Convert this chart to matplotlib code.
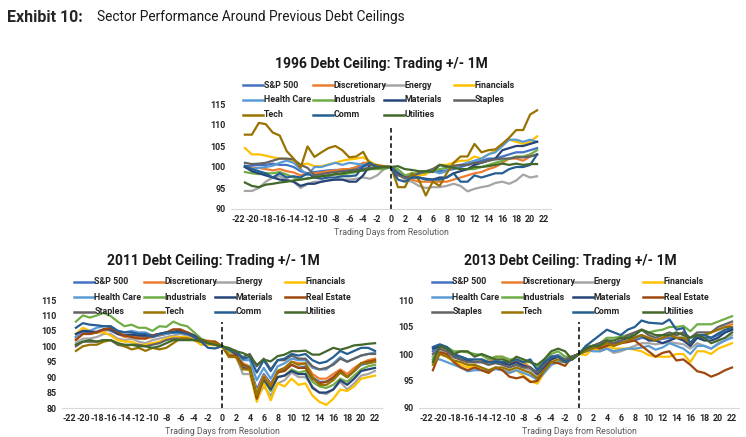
import matplotlib
matplotlib.use("Agg")
import matplotlib.pyplot as plt
from matplotlib.lines import Line2D

W, H = 746, 437

days_1996 = list(range(-21, 22))
days_2011 = list(range(-21, 23))
days_2013 = list(range(-21, 23))

colors = {
    "S&P 500": "#4472C4",
    "Discretionary": "#ED7D31",
    "Energy": "#A5A5A5",
    "Financials": "#FFC000",
    "Health Care": "#5B9BD5",
    "Industrials": "#70AD47",
    "Materials": "#264478",
    "Real Estate": "#9E480E",
    "Staples": "#636363",
    "Tech": "#997300",
    "Comm": "#255E91",
    "Utilities": "#43682B",
}

legend_1996 = ["S&P 500", "Discretionary", "Energy", "Financials",
               "Health Care", "Industrials", "Materials", "Staples",
               "Tech", "Comm", "Utilities"]
legend_full = ["S&P 500", "Discretionary", "Energy", "Financials",
               "Health Care", "Industrials", "Materials", "Real Estate",
               "Staples", "Tech", "Comm", "Utilities"]

data_1996 = {
    "S&P 500": [100.2, 100.3, 100.5, 100.5, 100.8, 100.5, 100.5, 100, 99, 98.5, 98.8, 99, 99.2, 99.3, 99.3, 99.5, 99.8, 100.2, 100.5, 100.3, 100,
                100,
                98.8, 98, 98, 98.3, 98.5, 99, 99, 99.2, 99.5, 100, 100.5, 101, 101.5, 102, 102, 102.5, 103, 103.5, 103.5, 104, 104.5],
    "Discretionary": [100, 99.7, 99.8, 99.5, 99.2, 99.5, 99, 98.7, 98, 98.5, 98.5, 98.7, 99, 99.2, 99.5, 99.5, 100, 101, 101, 100.5, 100.2,
                      100,
                      98.5, 97, 97, 96.5, 96.5, 96.5, 96.5, 96.5, 97, 97.5, 98, 98.5, 98.8, 99.5, 100, 101, 102, 102, 101.5, 102.5, 103],
    "Energy": [94.3, 94.3, 95, 96.5, 97.5, 97.8, 97, 96.5, 95, 96, 96.5, 96.5, 96.8, 97, 97, 97, 97.2, 97.5, 97.2, 98, 99.5,
               100,
               98.5, 97, 96.5, 95.5, 95, 95.2, 95.2, 95.5, 96, 95.5, 94.2, 94.8, 95.2, 95.5, 96.2, 96.5, 96, 96.8, 98.2, 97.5, 97.8],
    "Financials": [104.5, 103, 103, 102.7, 102.3, 102, 101.8, 101.5, 100.6, 100.8, 100.2, 100.2, 100.6, 101, 101.5, 101.8, 102, 102.3, 101.3, 100.3, 100,
                   100,
                   99, 97.5, 97.8, 98, 98.2, 99.5, 100.5, 100.5, 101, 101.5, 101.5, 102.5, 102, 103, 104, 105.5, 106.5, 106, 105.5, 106, 107.3],
    "Health Care": [100, 99.5, 99.8, 100, 100.3, 101, 101.5, 101, 99.5, 98, 100, 100, 100.5, 101, 100.5, 101, 100.8, 100.5, 100.7, 100.3, 100,
                    100,
                    99, 97.5, 98, 98.5, 98.8, 99, 98.5, 99, 100, 100.5, 101, 101.5, 102, 103, 103.5, 105, 106.5, 106.5, 106, 106.5, 106],
    "Industrials": [98.8, 98.5, 98.3, 98.5, 98.5, 98.8, 98.2, 97.5, 97, 97.2, 97.5, 97.8, 98, 98.2, 98.2, 98.5, 98.8, 99.2, 99.5, 99.5, 99.5,
                    100,
                    99.5, 98, 98.5, 98.5, 98.8, 99, 99.5, 99.8, 100, 99.5, 99.5, 99.5, 100, 100.5, 101, 101.5, 102, 102.5, 102.5, 103, 104],
    "Materials": [100, 99, 98.5, 98, 97.5, 97, 96.8, 96.5, 95.5, 96, 96, 96.5, 96.8, 97, 97, 96.5, 96.5, 98, 100.5, 100.3, 100,
                  100,
                  98.5, 97.5, 97.5, 97.5, 97.2, 97, 97.5, 97.5, 98.5, 99, 99.5, 100.5, 101, 101.5, 102, 104, 104.5, 105, 105, 105.5, 106],
    "Staples": [101, 100.7, 100.8, 101, 101.5, 102, 102, 101.8, 100.5, 99.8, 98, 98.3, 98.6, 98.8, 99, 99.2, 99.4, 99.6, 99.8, 100, 100,
                100,
                98, 97.5, 97.8, 98.5, 99, 99.5, 100.5, 100, 100.3, 100.5, 100.5, 101, 101, 101.5, 101.8, 102, 102, 102.3, 102.3, 102.5, 103],
    "Tech": [107.7, 107.7, 110.5, 110.2, 108.2, 107.5, 103.8, 102, 99.8, 104.9, 102.4, 103.5, 104.5, 105, 104, 102.3, 102.5, 103.6, 100.6, 100.3, 100.2,
             100,
             95.2, 95.2, 98.5, 97, 93.2, 96.5, 95.5, 98.5, 101, 102.5, 102.5, 105.5, 103.5, 104, 104.2, 105.5, 107, 108.8, 108.8, 112.5, 113.5],
    "Comm": [100.3, 99.5, 99, 98.5, 97.5, 98.5, 97.5, 97.8, 97.5, 98.5, 97.5, 97.2, 97.5, 97.5, 97.8, 97.8, 98, 100.2, 101, 100, 100,
             100,
             97, 96.5, 97.5, 97.5, 97, 97, 97, 97.5, 98.5, 96.5, 96.5, 98, 97.5, 98, 98.5, 98.5, 99.5, 100, 100, 100.5, 103],
    "Utilities": [96.3, 95.5, 95.2, 95.8, 96, 96.3, 96.5, 96.8, 97, 97.3, 97.5, 97.8, 98, 98.3, 98.5, 98.8, 99, 99.2, 99.5, 99.8, 100,
                  100,
                  100.2, 99.5, 99.3, 99, 99, 98.8, 100.5, 100.2, 99.8, 99.5, 99.5, 100, 100, 100.2, 100.5, 100.8, 100.5, 100.8, 100.5, 100.7, 100.7],
}

data_2011 = {
    "S&P 500": [103, 104.5, 104.5, 104.8, 105.5, 105, 104, 103.5, 103.5, 103, 103, 103, 103.5, 104, 104.5, 104.8, 104.3, 103.3, 102, 101.5, 101,
                100,
                98.5, 97.5, 94, 93.5, 86, 91, 88, 91.5, 92.5, 94, 93, 93.5, 90, 88.5, 88.5, 89.5, 91.5, 90, 92, 94, 94.5, 95],
    "Discretionary": [102.5, 104, 104, 104.5, 105, 105.5, 104, 103, 103.3, 103, 102.5, 103, 103.8, 104, 104.5, 105, 104.5, 103.5, 102, 101.8, 101.5,
                      100,
                      98, 97.5, 94.5, 93.5, 85, 90.5, 87.5, 92, 93, 95, 94.5, 94.5, 91, 89.5, 89.5, 91, 92.5, 91, 93, 94.5, 95.5, 96],
    "Energy": [101, 102.5, 102.5, 103, 104, 104, 102.5, 102, 102.5, 101.5, 101, 102, 102.5, 103, 103.5, 104, 103.5, 102.5, 101.5, 101, 100.5,
               100,
               98, 97, 91, 91, 83, 87, 84, 88, 89, 91.5, 90, 90, 87, 85, 84.5, 86, 88.5, 86, 88, 90.5, 91, 92],
    "Financials": [104, 106, 105, 104.5, 104.5, 103.5, 102, 101.5, 101.5, 100.5, 100.5, 101, 101.5, 102.5, 103, 103, 103, 102, 100.5, 100.5, 100.3,
                   100,
                   97.5, 96.5, 93, 92, 82, 88, 82.5, 88, 87, 89.5, 87.5, 88, 84, 82, 81, 83, 86, 85.5, 87, 89.5, 90, 90.5],
    "Health Care": [103, 105, 105, 106, 106.5, 106.5, 105, 104.5, 105, 104.5, 104.5, 103.5, 104, 104, 104.5, 104.5, 104, 103.5, 102, 101, 100.5,
                    100,
                    99, 98.5, 95.5, 95.5, 89, 93, 89.5, 93.5, 94.5, 96, 95.5, 95.5, 93, 92.5, 92.5, 94.5, 96.5, 95, 96, 97, 97.5, 98],
    "Industrials": [108, 110, 109.3, 110, 110.8, 109.8, 108, 106.5, 107, 106, 106, 105, 106.5, 106.3, 108, 107, 106.5, 104.5, 102.5, 101.5, 101,
                    100,
                    98.5, 97.5, 94, 93.5, 84.5, 89, 85.5, 90, 90.5, 92.5, 91.5, 92, 88.5, 87, 86.5, 87.5, 89.5, 88.5, 90.5, 92.5, 93.5, 94],
    "Materials": [104, 105, 104.8, 104.5, 105.5, 105.5, 104, 103.5, 103.8, 103.5, 103.5, 103.5, 104, 104.5, 104.8, 105, 104.5, 103.5, 102, 101.5, 101,
                  100,
                  99, 97.5, 93, 92.5, 83.5, 89.5, 86, 90, 90.5, 92, 91, 91, 86.5, 85, 85, 86, 89, 87.5, 89.5, 92, 92.5, 93],
    "Real Estate": [102, 104, 104, 104.5, 105.5, 106, 104.5, 103.5, 103, 102.5, 102.5, 103.5, 104, 104.5, 105.5, 105.5, 104.5, 103, 102, 101.5, 101.5,
                    100,
                    97, 97, 94, 93, 83, 90, 87, 91.5, 92, 94, 93, 93, 89.5, 88, 88.5, 90, 92, 90, 92, 94.5, 95, 95.5],
    "Staples": [100, 101.5, 101.5, 101.5, 102, 102, 100.5, 100, 100.5, 100.5, 100, 100.5, 101, 102, 102.5, 102.5, 102.5, 102, 101.5, 101, 100.5,
                100,
                99, 98, 96.5, 97.5, 93.5, 96, 92.5, 95.5, 95.5, 97, 96, 96, 93.5, 92.5, 93, 94, 96, 95, 96, 97, 97.5, 97.5],
    "Tech": [98.5, 100, 100.5, 100.5, 101.5, 102, 101, 100, 99, 99.5, 98.5, 99.5, 99, 99.5, 101, 102.5, 102.5, 102, 101.5, 101.5, 101,
             100,
             96.5, 96.5, 92.5, 92.5, 84, 90, 87, 92, 93, 95, 94, 94.5, 90, 87.5, 87.5, 89, 91.5, 90, 92, 94.5, 94.5, 95],
    "Comm": [106, 107.5, 107, 106.8, 106.5, 106.5, 105, 104.5, 104.5, 104, 104, 103, 104, 104.5, 104.5, 104.5, 104, 103, 101.5, 99.5, 99.3,
             100,
             99, 98.5, 96, 96.5, 91.5, 95.5, 92, 95.5, 96, 97.5, 97, 97.5, 95.5, 94.5, 95, 96.5, 98.5, 97.5, 98.5, 99.5, 99.5, 98.5],
    "Utilities": [100.5, 101.5, 102, 101.5, 102, 102, 101, 100.5, 100.5, 100, 100, 99.5, 100, 101, 102, 102, 102, 102, 102, 101, 100.5,
                  100,
                  99.5, 98.4, 97.8, 96.8, 94, 95.7, 95.1, 96.8, 97.3, 98.4, 98.4, 98.6, 97.3, 97.3, 98.4, 99.5, 98.9, 99.5, 100.3, 100.5, 100.8, 101],
}

data_2013 = {
    "S&P 500": [100.5, 101.5, 101, 99.8, 99.5, 99, 98.8, 98.8, 98.5, 98.8, 98.5, 98, 98.5, 98, 97.5, 96.5, 98, 99.5, 99.8, 99, 99.5,
                100,
                101, 101.5, 101.5, 102, 102, 102, 102.5, 102.5, 103, 102.8, 102.5, 102.8, 103, 103, 103, 102, 103, 103, 103, 103.5, 104, 104.5],
    "Discretionary": [99.5, 100.5, 100.5, 99.5, 99, 98.5, 98.5, 99, 98.5, 99.5, 99.5, 98.5, 98.5, 98.5, 97.5, 96, 97.5, 99, 99.5, 99, 99.5,
                      100,
                      100.5, 101, 101, 102, 101.5, 102, 102.5, 103, 103.5, 103, 102.5, 103, 103.5, 103.5, 104, 101.5, 103.5, 103.5, 104, 104.5, 105, 105.5],
    "Energy": [99.5, 100.5, 100, 99.3, 99, 98.5, 98.8, 98.5, 98, 98.5, 98.5, 98, 98, 97.5, 97, 96, 97.5, 99, 99.5, 99, 99.5,
               100,
               100.5, 101, 100.5, 101, 100.2, 100.5, 101, 101.5, 102, 102, 101.8, 102, 102.2, 102, 101.8, 101, 102, 101.5, 101, 102, 102.5, 103.5],
    "Financials": [98.5, 100, 99.5, 98.5, 98, 97.5, 97.8, 97, 96.5, 97.5, 97, 96.5, 97, 96, 95, 94.5, 96.5, 98, 98.5, 98.5, 99,
                   100,
                   99.8, 101, 100.5, 101.5, 101, 101, 101, 100.8, 100.5, 99.8, 99.5, 99.5, 99.5, 100, 100, 98.5, 100.5, 100.5, 100, 101, 101.5, 102],
    "Health Care": [99, 99, 98.5, 98, 97.5, 96.8, 97, 97, 96.8, 97.2, 97, 96.5, 97, 96.5, 96, 95.2, 96.5, 98, 98.5, 98.5, 99,
                    100,
                    100.8, 100.5, 100.5, 101, 100.5, 100.8, 101, 101, 101.2, 101.5, 100.8, 101.2, 102, 101.5, 101, 100, 101.5, 101.5, 101, 101.8, 102.5, 103],
    "Industrials": [99, 101.5, 101.3, 100.5, 100.5, 100.3, 100, 99.8, 99, 99.5, 99.5, 99, 99, 98.5, 98.5, 97.5, 99, 100, 100.5, 99.5, 99.5,
                    100,
                    101.5, 101.5, 102, 103, 103, 103.2, 103.5, 103.5, 104.5, 104, 104.3, 104.5, 105, 105, 105.2, 104.2, 105.5, 105.5, 105.5, 106, 106.5, 107],
    "Materials": [101, 101.5, 101, 99.5, 99, 98.8, 98.5, 98.5, 98.5, 98.5, 98.3, 98, 98.5, 97.8, 97.5, 96.3, 97.5, 99, 99.5, 98.8, 99.5,
                  100,
                  101, 101.5, 102, 102.5, 102, 102.5, 103, 103, 103.5, 102.5, 102.5, 102, 102.5, 103, 102.5, 101.5, 103, 102.5, 102.5, 103, 104, 104.5],
    "Real Estate": [97, 100.3, 100, 98.5, 97.5, 97, 97.5, 97, 96.5, 97.5, 97, 95.8, 95.5, 95.8, 94.8, 95, 97, 98.5, 98.3, 97.8, 99.5,
                    100,
                    101, 101.5, 101, 101.5, 102, 102, 102.2, 102.5, 101.5, 100.5, 99.5, 100.2, 100.5, 98.8, 99, 98, 96.8, 96.5, 95.8, 96.3, 97, 97.5],
    "Staples": [100, 101, 100.5, 99.5, 99, 98.5, 98.5, 98.5, 98, 98.3, 98, 97.5, 98, 97.5, 97.5, 96.5, 98, 99.5, 99.5, 99, 99.5,
                100,
                101, 101.5, 102, 102.5, 102, 102.5, 103.5, 104, 104.5, 103.5, 103, 103.5, 104, 103.5, 104, 103, 104, 104, 104, 105, 105.5, 106],
    "Tech": [98, 100, 99.5, 98.8, 98.5, 98, 98, 97.5, 97, 97.5, 97.5, 97, 97.5, 97, 96.5, 95.5, 97, 98.5, 99, 98.5, 99,
             100,
             100.5, 101, 101.5, 102, 101.5, 102, 102.5, 103, 103.5, 103, 102.5, 103, 103.5, 103, 103, 102, 103.5, 103.5, 104, 104.5, 105, 105],
    "Comm": [101.3, 101.8, 101.3, 100, 99.5, 99, 99, 99, 98.5, 98.5, 98.5, 98.5, 99, 98.5, 99, 97, 98.5, 99.5, 99.5, 98.5, 99,
             100,
             101.5, 102.5, 103.5, 104.5, 104, 103.5, 104.5, 105, 106.2, 105.8, 105.7, 105.6, 106.4, 104.5, 104.8, 102, 103.5, 103.5, 103, 103.8, 104.5, 104.8],
    "Utilities": [98.5, 101.5, 101, 100, 100.5, 100.5, 99.5, 100, 99.5, 99, 99, 98.5, 99.5, 99, 98.5, 98, 99, 100.5, 101, 100.5, 99,
                  100,
                  101, 101.5, 101.5, 102.5, 102.5, 103, 103, 103.5, 104.5, 104, 103.5, 103.5, 103.5, 104, 103.5, 103, 103.5, 103, 102, 102.5, 103, 104],
}

plt.rcParams["font.family"] = ["Roboto", "DejaVu Sans"]
plt.rcParams["axes.unicode_minus"] = False

fig = plt.figure(figsize=(W / 100, H / 100), dpi=100)


def px_box(left, top, right, bottom):
    return [left / W, 1 - bottom / H, (right - left) / W, (bottom - top) / H]


def draw_panel(box, days, data, names, ylim, yticks, title, title_xy, leg_cols, leg_rows):
    ax = fig.add_axes(box)
    for name in names:
        ax.plot(days, data[name], color=colors[name], lw=1.6, solid_joinstyle="round")
    ax.axvline(0, ymin=0, ymax=0.8, color="black", lw=1.1, ls=(0, (3, 2)))
    ax.set_xlim(-23, 23)
    ax.set_ylim(*ylim)
    ax.set_xticks(range(-22, 23, 2))
    ax.set_yticks(yticks)
    ax.tick_params(length=0, labelsize=6.4, colors="#262626", pad=4)
    for lab in ax.get_xticklabels() + ax.get_yticklabels():
        lab.set_fontweight("bold")
    for side in ["top", "right", "left"]:
        ax.spines[side].set_visible(False)
    ax.spines["bottom"].set_color("#D9D9D9")
    ax.set_xlabel("Trading Days from Resolution", fontsize=6.3, color="#595959", labelpad=3)
    fig.text(title_xy[0] / W, 1 - title_xy[1] / H, title, ha="center", va="center",
             fontsize=10, fontweight="bold", color="#1a1a1a")
    for i, name in enumerate(names):
        r, c = divmod(i, 4)
        x0 = leg_cols[c]
        y0 = 1 - leg_rows[r] / H
        fig.add_artist(Line2D([x0 / W, (x0 + 20) / W], [y0, y0], color=colors[name], lw=1.8))
        fig.text((x0 + 20.5) / W, y0, name, ha="left", va="center", fontsize=6.4,
                 fontweight="bold", color="#262626")
    return ax


draw_panel(px_box(231, 104, 551, 209), days_1996, data_1996, legend_1996,
           (90, 115), range(90, 116, 5), "1996 Debt Ceiling: Trading +/- 1M", (381, 64),
           [243, 313, 384, 454], [85, 100, 115])

draw_panel(px_box(62, 300, 382, 408), days_2011, data_2011, legend_full,
           (80, 115), range(80, 116, 5), "2011 Debt Ceiling: Trading +/- 1M", (213, 261),
           [74, 144, 215, 285], [282, 297, 312])

draw_panel(px_box(419, 300, 739, 408), days_2013, data_2013, legend_full,
           (90, 110), range(90, 111, 5), "2013 Debt Ceiling: Trading +/- 1M", (570, 261),
           [432, 502, 573, 643], [282, 297, 312])

fig.text(7 / W, 1 - 17 / H, "Exhibit 10:", ha="left", va="center", fontsize=11.5,
         fontweight="bold", color="#262626")
fig.text(97 / W, 1 - 17 / H, "Sector Performance Around Previous Debt Ceilings", ha="left",
         va="center", fontsize=9.8, color="#1a1a1a")

fig.savefig("out.png", dpi=100)
